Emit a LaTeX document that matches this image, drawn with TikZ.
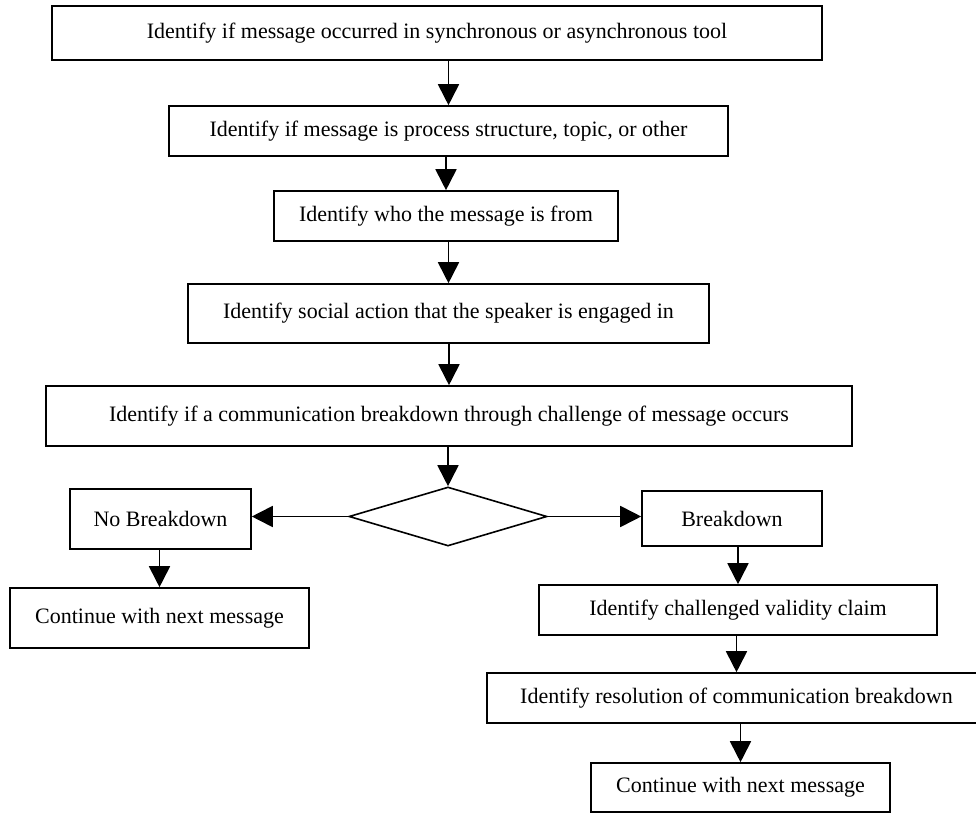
\documentclass[tikz,border=0pt]{standalone}
\usepackage{fontspec}
\setmainfont{Liberation Serif}
\usetikzlibrary{arrows.meta,shapes.geometric}

\begin{document}
\begin{tikzpicture}[x=0.5pt,y=-0.5pt,
    flowbox/.style={draw, line width=0.8pt, inner sep=0pt, align=center,
      font=\fontsize{11}{13}\selectfont},
    decision/.style={draw, diamond, line width=0.8pt, inner sep=0pt},
    arr/.style={line width=0.9pt, -{Triangle[width=10.5pt,length=10.5pt]}}]
  \useasboundingbox (0,0) rectangle (976,813);

  % Main sequence of steps
  \node[flowbox, minimum width=385pt, minimum height=27pt] (sync) at (437,33)
    {Identify if message occurred in synchronous or asynchronous tool};
  \node[flowbox, minimum width=279.5pt, minimum height=25pt] (kind) at (448.5,131)
    {Identify if message is process structure, topic, or other};
  \node[flowbox, minimum width=172pt, minimum height=25pt] (who) at (446,216)
    {Identify who the message is from};
  \node[flowbox, minimum width=260.5pt, minimum height=29.5pt] (action) at (448.5,313.5)
    {Identify social action that the speaker is engaged in};
  \node[flowbox, minimum width=403pt, minimum height=30pt] (check) at (449,416)
    {Identify if a communication breakdown through challenge of message occurs};
  \node[decision, minimum width=99pt, minimum height=29.5pt] (dec) at (448,516.5) {};

  % Left branch
  \node[flowbox, minimum width=90.5pt, minimum height=30pt] (nobreak) at (160.5,519)
    {No Breakdown};
  \node[flowbox, minimum width=149.5pt, minimum height=30pt] (nextL) at (159.5,618)
    {Continue with next message};

  % Right branch
  \node[flowbox, minimum width=90pt, minimum height=27.5pt] (brk) at (732,518.5)
    {Breakdown};
  \node[flowbox, minimum width=199pt, minimum height=25pt] (claim) at (738,610)
    {Identify challenged validity claim};
  \node[flowbox, minimum width=249.5pt, minimum height=25pt] (resol) at (736.5,698)
    {Identify resolution of communication breakdown};
  \node[flowbox, minimum width=149.5pt, minimum height=24.5pt] (nextR) at (740.5,787.5)
    {Continue with next message};

  % Connectors
  \draw[arr] (sync.south -| kind.north) -- (kind.north);
  \draw[arr] (kind.south -| who.north) -- (who.north);
  \draw[arr] (who.south -| action.north) -- (action.north);
  \draw[arr] (action.south -| check.north) -- (check.north);
  \draw[arr] (check.south -| dec.north) -- (dec.north);
  \draw[arr] (dec.west) -- (dec.west -| nobreak.east);
  \draw[arr] (dec.east) -- (dec.east -| brk.west);
  \draw[arr] (nobreak.south -| nextL.north) -- (nextL.north);
  \draw[arr] (brk.south -| claim.north) -- (claim.north);
  \draw[arr] (claim.south -| resol.north) -- (resol.north);
  \draw[arr] (resol.south -| nextR.north) -- (nextR.north);
\end{tikzpicture}
\end{document}
